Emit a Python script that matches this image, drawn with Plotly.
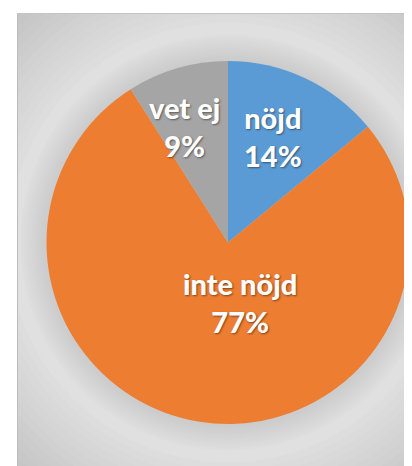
import plotly.graph_objects as go

labels = ["nöjd", "inte nöjd", "vet ej"]
values = [14, 77, 9]
colors = ["#5B9BD5", "#ED7D31", "#A5A5A5"]

# page has an 8px body margin; figure coordinates are page coordinates minus 8
OFF = 8
W, H = 412 - OFF, 466 - OFF
cx, cy, R = 228 - OFF, 242.5 - OFF, 181.5

def px(x):
    return x / W

def py(y):
    return 1 - y / H

fig = go.Figure()
fig.add_trace(go.Pie(
    labels=labels, values=values, sort=False, direction="clockwise", rotation=0,
    marker=dict(colors=colors, line=dict(width=0)),
    textinfo="none", hoverinfo="none", showlegend=False,
    domain=dict(x=[px(cx - R), px(cx + R)], y=[py(cy + R), py(cy - R)]),
))

# label placement (page coords of text block centres), styling only
label_pos = {"nöjd": (273, 136), "inte nöjd": (240, 302), "vet ej": (184, 126)}
total = sum(values)
annotations = []
for lab, val in zip(labels, values):
    x, y = label_pos[lab]
    annotations.append(dict(
        x=px(x - OFF), y=py(y - OFF), xref="paper", yref="paper",
        xanchor="center", yanchor="middle", showarrow=False, align="center",
        text="%s<br>%d%%" % (lab, round(val / total * 100)),
        font=dict(family="Lato", size=29, color="white", weight=900,
                  shadow="1px 1px 2px rgba(0,0,0,0.45)"),
    ))

bx0, by0 = 17 - OFF, 13 - OFF
shapes = [dict(type="rect", xref="paper", yref="paper", x0=px(bx0), x1=1.01, y0=-0.01, y1=py(by0),
               fillcolor="#c0c0c0", line=dict(width=0), layer="below")]
# radial gradient approximation (light centre, darker corners)
n = 16
for i in range(n):
    t = i / (n - 1)
    r = 330 - t * 110
    g = int(0xc0 + (0xe0 - 0xc0) * t)
    col = "#%02x%02x%02x" % (g, g, g)
    shapes.append(dict(type="circle", xref="paper", yref="paper",
                       x0=px(cx - r), x1=px(cx + r), y0=py(cy + r), y1=py(cy - r),
                       fillcolor=col, line=dict(width=0), layer="below"))
# soft shadow halo around the pie
m = 10
for i in range(m):
    t = i / (m - 1)
    r = R + 26 - t * 24
    g = int(0xdd - (0xdd - 0xcc) * t)
    col = "#%02x%02x%02x" % (g, g, g)
    shapes.append(dict(type="circle", xref="paper", yref="paper",
                       x0=px(cx - r), x1=px(cx + r), y0=py(cy + r), y1=py(cy - r),
                       fillcolor=col, line=dict(width=0), layer="below"))
# white margins (mask gradient overflow)
shapes.append(dict(type="rect", xref="paper", yref="paper", x0=-0.01, x1=px(bx0), y0=-0.01, y1=1.01,
                   fillcolor="white", line=dict(width=0), layer="below"))
shapes.append(dict(type="rect", xref="paper", yref="paper", x0=-0.01, x1=1.01, y0=py(by0), y1=1.01,
                   fillcolor="white", line=dict(width=0), layer="below"))
# thin border of the chart area
shapes.append(dict(type="line", xref="paper", yref="paper", x0=px(bx0 + 0.5), x1=px(bx0 + 0.5), y0=0, y1=py(by0),
                   line=dict(color="#bcbcbc", width=1), layer="below"))
shapes.append(dict(type="line", xref="paper", yref="paper", x0=px(bx0), x1=1, y0=py(by0 + 0.5), y1=py(by0 + 0.5),
                   line=dict(color="#c4c4c4", width=1), layer="below"))

fig.update_layout(width=W, height=H, margin=dict(l=0, r=0, t=0, b=0),
                  paper_bgcolor="white", plot_bgcolor="white",
                  shapes=shapes, annotations=annotations)
fig.write_html("out.html")
